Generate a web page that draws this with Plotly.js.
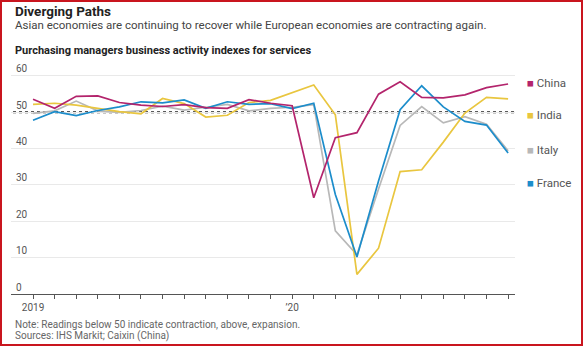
<!DOCTYPE html>
<html>
<head>
<meta charset="utf-8">
<script src="https://cdn.plot.ly/plotly-3.0.1.min.js"></script>
<style>
html,body{margin:0;padding:0;background:#fff;}
#wrap{position:relative;width:583px;height:346px;}
#chart{width:583px;height:346px;}
#frame{position:absolute;left:0;top:0;width:579px;height:342px;border:2px solid #c9151e;pointer-events:none;}
</style>
</head>
<body>
<div id="wrap"><div id="chart"></div><div id="frame"></div></div>
<script>
// Months: Jan 2019 .. Nov 2020 (index 0..22)
const months = ["2019-01","2019-02","2019-03","2019-04","2019-05","2019-06","2019-07","2019-08","2019-09","2019-10","2019-11","2019-12",
                "2020-01","2020-02","2020-03","2020-04","2020-05","2020-06","2020-07","2020-08","2020-09","2020-10","2020-11"];
const tickLabels = {0: "2019", 12: "\u201920"};
const china  = [53.6,51.1,54.4,54.5,52.7,52.0,51.6,52.1,51.3,51.1,53.5,52.5,51.8,26.5,43.0,44.4,55.0,58.4,54.1,54.0,54.8,56.8,57.8];
const india  = [52.2,52.5,52.0,51.0,50.2,49.6,53.8,52.4,48.7,49.2,52.7,53.3,55.5,57.5,49.3,5.4,12.6,33.7,34.2,41.8,49.8,54.1,53.7];
const italy  = [49.7,50.4,53.1,50.4,50.0,50.5,51.7,50.6,51.4,52.2,50.4,51.1,51.4,52.1,17.4,10.8,28.9,46.4,51.6,47.1,48.8,46.7,39.4];
const france = [47.8,50.2,49.1,50.5,51.5,52.9,52.6,53.4,51.1,52.9,52.2,52.4,51.0,52.5,27.4,10.2,31.1,50.7,57.3,51.5,47.5,46.5,38.8];
const seriesNames = ["China","India","Italy","France"];
const seriesData = [china, india, italy, france];
const seriesColors = ["#b3246c","#e9c63f","#b8b8b8","#1c8dcb"];
const yTicks = [0,10,20,30,40,50,60];
const threshold = 50;

const xIdx = months.map((m,i)=>i);
const FONT = "Roboto, 'Noto Sans', sans-serif";
const Y_MAX = 65.5;

const traces = seriesData.map((d,k)=>({
  x: xIdx, y: d, type: "scatter", mode: "lines", name: seriesNames[k],
  line: {color: seriesColors[k], width: 1.7}, showlegend: false, hoverinfo: "skip"
}));
// draw order: Italy under, then India, France, China
const order = [2,1,3,0];
const data = order.map(i=>traces[i]);

const annotations = [];
const pyTop = 56, pyH = 238;
function py(y){ return 1 - (y - pyTop)/pyH; }
// legend
const legY = [83,115,150,183];
seriesNames.forEach((n,k)=>{
  annotations.push({xref:"paper", yref:"paper", x:1.019, y:py(legY[k]), xanchor:"left", yanchor:"middle",
    text:'<span style="color:'+seriesColors[k]+'">\u25A0</span> '+n, showarrow:false,
    font:{family:FONT, size:11.5, color:"#555"}});
});
// titles
annotations.push({xref:"paper", yref:"paper", x:0.004, y:py(11), xanchor:"left", yanchor:"middle",
  text:"<b>Diverging Paths</b>", showarrow:false, font:{family:FONT, size:13.5, color:"#222"}});
annotations.push({xref:"paper", yref:"paper", x:0.004, y:py(25), xanchor:"left", yanchor:"middle",
  text:"Asian economies are continuing to recover while European economies are contracting again.", showarrow:false, font:{family:FONT, size:11.5, color:"#444"}});
annotations.push({xref:"paper", yref:"paper", x:0.004, y:py(50), xanchor:"left", yanchor:"middle",
  text:"<b>Purchasing managers business activity indexes for services</b>", showarrow:false, font:{family:FONT, size:11, color:"#222"}});
annotations.push({xref:"paper", yref:"paper", x:0.004, y:py(324), xanchor:"left", yanchor:"middle",
  text:"Note: Readings below 50 indicate contraction, above, expansion.", showarrow:false, font:{family:FONT, size:10, color:"#666"}});
annotations.push({xref:"paper", yref:"paper", x:0.004, y:py(336), xanchor:"left", yanchor:"middle",
  text:"Sources: IHS Markit; Caixin (China)", showarrow:false, font:{family:FONT, size:10, color:"#666"}});

const layout = {
  width:583, height:346,
  margin:{l:11, r:68, t:56, b:52},
  paper_bgcolor:"rgba(0,0,0,0)", plot_bgcolor:"rgba(0,0,0,0)",
  font:{family:FONT},
  xaxis:{range:[-1.02,22.32], tickmode:"array", tickvals:xIdx,
    ticktext:xIdx.map(i=>tickLabels[i]||""), ticks:"outside", ticklen:4, tickcolor:"#555", tickwidth:1,
    showgrid:false, zeroline:false, showline:true, linecolor:"#555", linewidth:1,
    tickfont:{family:FONT, size:10, color:"#555"}, fixedrange:true},
  yaxis:{range:[0,Y_MAX], tickmode:"array", tickvals:yTicks, ticktext:yTicks.map(String),
    showticklabels:true, ticklabelposition:"inside top", ticks:"", ticklabelstandoff:2,
    tickfont:{family:FONT, size:10, color:"#555"},
    showgrid:true, gridcolor:"#e9e9e9", gridwidth:1, zeroline:false, showline:false, fixedrange:true},
  shapes:[{type:"line", xref:"paper", yref:"y", x0:0.004, x1:1, y0:threshold, y1:threshold,
    line:{color:"#222", width:2, dash:"dot"}, layer:"below"}],
  annotations: annotations,
  showlegend:false
};
Plotly.newPlot("chart", data, layout, {displayModeBar:false, staticPlot:true});
</script>
</body>
</html>
